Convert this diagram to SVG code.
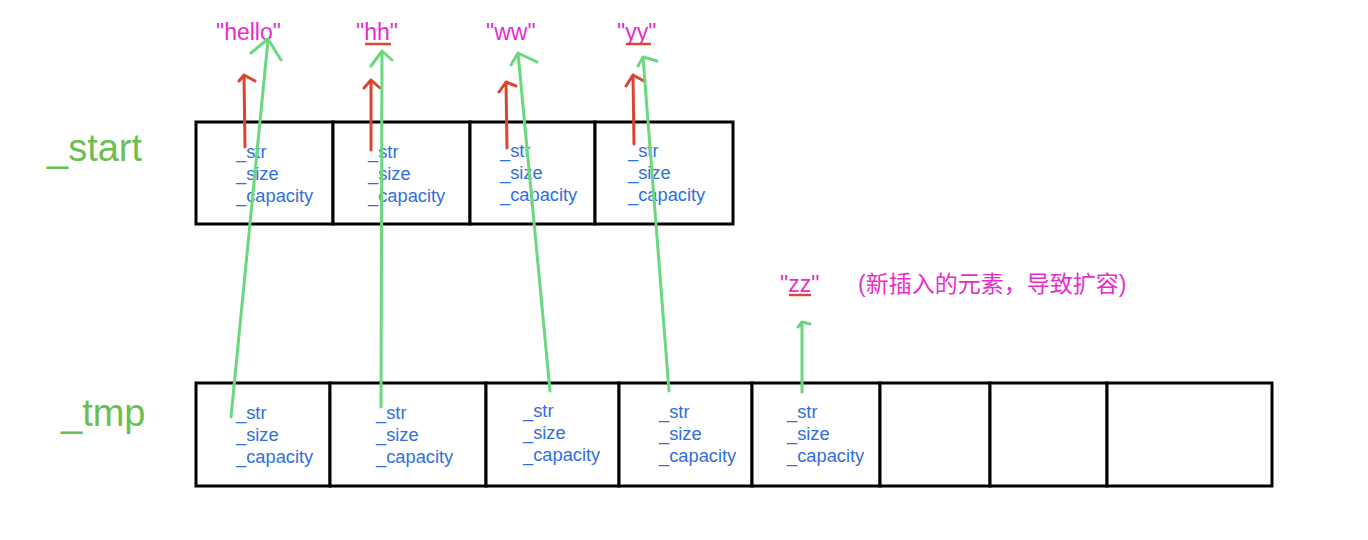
<svg xmlns="http://www.w3.org/2000/svg" width="1368" height="540" viewBox="0 0 1368 540">
<style>
.cell{fill:#fff;stroke:#000;stroke-width:3}
.f{font-family:"Liberation Sans",Arial,sans-serif;font-size:18.3px;fill:#2f6fe0}
.lbl{font-family:"Liberation Sans",Arial,sans-serif;font-size:38px;fill:#6bbf52}
.s{font-family:"Liberation Sans",Arial,sans-serif;font-size:23px;fill:#e82ccc}
.cn{font-family:"Liberation Sans","Noto Sans CJK SC",sans-serif;font-size:23px;fill:#e82ccc}
.ul{stroke:#e04434;stroke-width:2.5}
.red{fill:none;stroke:#dd4430;stroke-width:3;stroke-linecap:round;stroke-linejoin:round}
.grn{fill:none;stroke:#6ad87e;stroke-width:3;stroke-linecap:round;stroke-linejoin:round}
</style>
<rect width="1368" height="540" fill="#fff"/>
<text class="lbl" x="47" y="161">_start</text>
<text class="lbl" x="61" y="426">_tmp</text>

<g id="start-0"><rect class="cell" x="196" y="122" width="137" height="102"/><text class="f" x="236" y="158">_str</text><text class="f" x="236" y="180">_size</text><text class="f" x="236" y="202">_capacity</text></g>
<g id="start-1"><rect class="cell" x="333" y="122" width="137" height="102"/><text class="f" x="368" y="158">_str</text><text class="f" x="368" y="180">_size</text><text class="f" x="368" y="202">_capacity</text></g>
<g id="start-2"><rect class="cell" x="470" y="122" width="125" height="102"/><text class="f" x="500" y="157">_str</text><text class="f" x="500" y="179">_size</text><text class="f" x="500" y="201">_capacity</text></g>
<g id="start-3"><rect class="cell" x="595" y="122" width="138" height="102"/><text class="f" x="628" y="157">_str</text><text class="f" x="628" y="179">_size</text><text class="f" x="628" y="201">_capacity</text></g>

<g id="tmp-0"><rect class="cell" x="196" y="383" width="134" height="103"/><text class="f" x="236" y="419">_str</text><text class="f" x="236" y="441">_size</text><text class="f" x="236" y="463">_capacity</text></g>
<g id="tmp-1"><rect class="cell" x="330" y="383" width="156" height="103"/><text class="f" x="376" y="419">_str</text><text class="f" x="376" y="441">_size</text><text class="f" x="376" y="463">_capacity</text></g>
<g id="tmp-2"><rect class="cell" x="486" y="383" width="133" height="103"/><text class="f" x="523" y="417">_str</text><text class="f" x="523" y="439">_size</text><text class="f" x="523" y="461">_capacity</text></g>
<g id="tmp-3"><rect class="cell" x="619" y="383" width="133" height="103"/><text class="f" x="659" y="418">_str</text><text class="f" x="659" y="440">_size</text><text class="f" x="659" y="462">_capacity</text></g>
<g id="tmp-4"><rect class="cell" x="752" y="383" width="128" height="103"/><text class="f" x="787" y="418">_str</text><text class="f" x="787" y="440">_size</text><text class="f" x="787" y="462">_capacity</text></g>
<g id="tmp-5"><rect class="cell" x="880" y="383" width="110" height="103"/></g>
<g id="tmp-6"><rect class="cell" x="990" y="383" width="117" height="103"/></g>
<g id="tmp-7"><rect class="cell" x="1107" y="383" width="165" height="103"/></g>

<g id="s-hello"><text class="s" x="216" y="40">"hello"</text></g>
<g id="s-hh"><text class="s" x="356" y="40">"hh"</text><line class="ul" x1="365" y1="44" x2="391" y2="44"/></g>
<g id="s-ww"><text class="s" x="486" y="40">"ww"</text></g>
<g id="s-yy"><text class="s" x="617" y="40">"yy"</text><line class="ul" x1="626" y1="44" x2="651" y2="44"/></g>
<g id="s-zz"><text class="s" x="780" y="292">"zz"</text><line class="ul" x1="789" y1="295" x2="811" y2="295"/></g>
<g id="note"><text class="cn" x="858" y="292">(新插入的元素，导致扩容)</text></g>

<g id="connectors">
<path class="red" d="M245 147 L244 75 M239 81 L244 75 L255 81"/>
<path class="red" d="M371 150 L371 81 M364 88 L371 80 L380 88"/>
<path class="red" d="M507 148 L506 83 M499 92 L506 82 L516 86"/>
<path class="red" d="M634 144 L633 75 M626 86 L633 75 L644 81"/>
<path class="grn" d="M231 417 L268 40 M251 53 L268 39 L281 60"/>
<path class="grn" d="M381 407 L382 52 M371 66 L382 51 L392 60"/>
<path class="grn" d="M550 391 L518 53 M511 65 L518 53 L537 62"/>
<path class="grn" d="M669 391 L643 57 M638 66 L643 57 L657 61"/>
<path class="grn" d="M802 392 L802 322 M798 327 L802 322 L810 324"/>
</g>
</svg>
